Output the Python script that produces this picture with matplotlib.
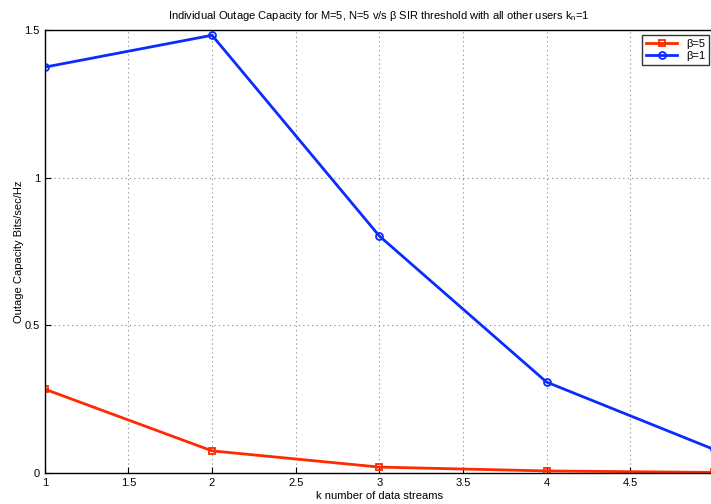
import matplotlib
matplotlib.use("Agg")
import matplotlib.pyplot as plt

plt.rcParams["font.family"] = ["Liberation Sans", "DejaVu Sans"]

k = [1, 2, 3, 4, 5]
beta5 = [0.284, 0.075, 0.020, 0.007, 0.002]
beta1 = [1.375, 1.483, 0.803, 0.308, 0.080]
xticks = [1, 1.5, 2, 2.5, 3, 3.5, 4, 4.5]
yticks = [0, 0.5, 1, 1.5]

fig = plt.figure(figsize=(7.11, 5.04), dpi=100)
ax = fig.add_axes([0.063, 0.0615, 0.941, 0.8785])

ax.plot(k, beta5, color="#ff2a00", lw=2, marker="s", ms=5, mfc="none", mew=1.3, label="β=5")
ax.plot(k, beta1, color="#0a2cff", lw=2, marker="o", ms=5, mfc="none", mew=1.3, label="β=1")

ax.set_xlim(1, 5)
ax.set_ylim(0, 1.5)
ax.set_xticks(xticks)
ax.set_xticklabels(["1", "1.5", "2", "2.5", "3", "3.5", "4", "4.5"])
ax.set_yticks(yticks)
ax.set_yticklabels(["0", "0.5", "1", "1.5"])
ax.tick_params(direction="in", labelsize=8, length=4)
ax.grid(True, ls=(0, (1, 3)), color="#888888", lw=0.8)
for s in ax.spines.values():
    s.set_linewidth(1)

ax.set_xlabel("k number of data streams", fontsize=8, labelpad=2)
ax.set_ylabel("Outage Capacity Bits/sec/Hz", fontsize=8)
ax.yaxis.set_label_coords(-0.031, 0.5)
ax.set_title("Individual Outage Capacity for M=5, N=5 v/s β SIR threshold with all other users k$_\\mathregular{n}$=1",
             fontsize=8, pad=8)

leg = ax.legend(loc="upper right", fontsize=8, fancybox=False, edgecolor="black",
                handlelength=2.8, borderpad=0.35, labelspacing=0.25, borderaxespad=0.4)
leg.get_frame().set_linewidth(1)

fig.savefig("out.png", dpi=100)
